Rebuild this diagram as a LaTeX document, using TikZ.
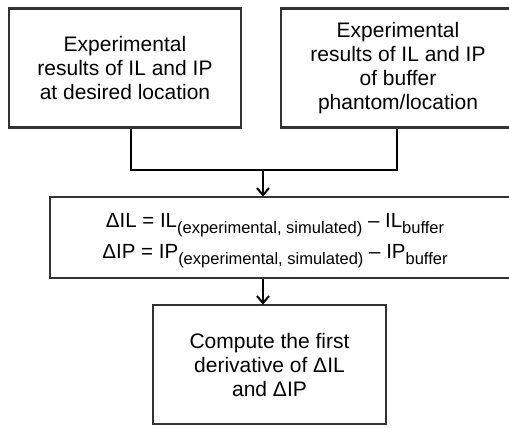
\documentclass[tikz,border=0pt]{standalone}
\usepackage{fontspec}
\setmainfont{Liberation Sans}
\usetikzlibrary{arrows.meta}
\definecolor{boxgray}{HTML}{333333}
\newcommand\sbx[1]{\raisebox{-6pt}{\fontsize{16.5}{16.5}\selectfont #1}}
\begin{document}
\begin{tikzpicture}[x=1pt,y=-1pt,
  box/.style={draw=boxgray, line width=2.8pt, inner sep=0pt, align=center,
    font=\fontsize{21}{24}\selectfont},
  txt/.style={inner sep=0pt, align=center, font=\fontsize{20.5}{31}\selectfont},
  conn/.style={line width=2.2pt, black},
  arr/.style={conn, -{Straight Barb[length=7pt,width=12pt,line width=2pt]}}]
\useasboundingbox (0,0) rectangle (509,428);
\clip (0,0) rectangle (509,428);
\fill[white] (0,0) rectangle (509,428);
\node[box, minimum width=232pt, minimum height=119.5pt] (left) at (125,68)
  {Experimental\\results of IL and IP\\at desired location};
\node[box, minimum width=234pt, minimum height=119pt] (right) at (398,68)
  {Experimental\\results of IL and IP\\of buffer\\phantom/location};
\node[box, minimum width=468pt, minimum height=81pt] (mid) at (284,237.5) {};
\node[txt] (midtext) at (275,241)
  {ΔIL = IL\sbx{(experimental, simulated)} – IL\sbx{buffer}\\
   ΔIP = IP\sbx{(experimental, simulated)} – IP\sbx{buffer}};
\node[box, minimum width=233pt, minimum height=119pt] (bot) at (269.5,364.5)
  {Compute the first\\derivative of ΔIL\\and ΔIP};
\coordinate (j) at (263,170);
\coordinate (la) at (131,128);
\coordinate (ra) at (397,128);
\draw[conn] (left.south -| la) |- (j) -| (right.south -| ra);
\draw[arr] (j) -- ([yshift=-1pt]mid.north -| j);
\draw[arr] (mid.south -| j) -- ([yshift=-1pt]bot.north -| j);
\end{tikzpicture}
\end{document}
